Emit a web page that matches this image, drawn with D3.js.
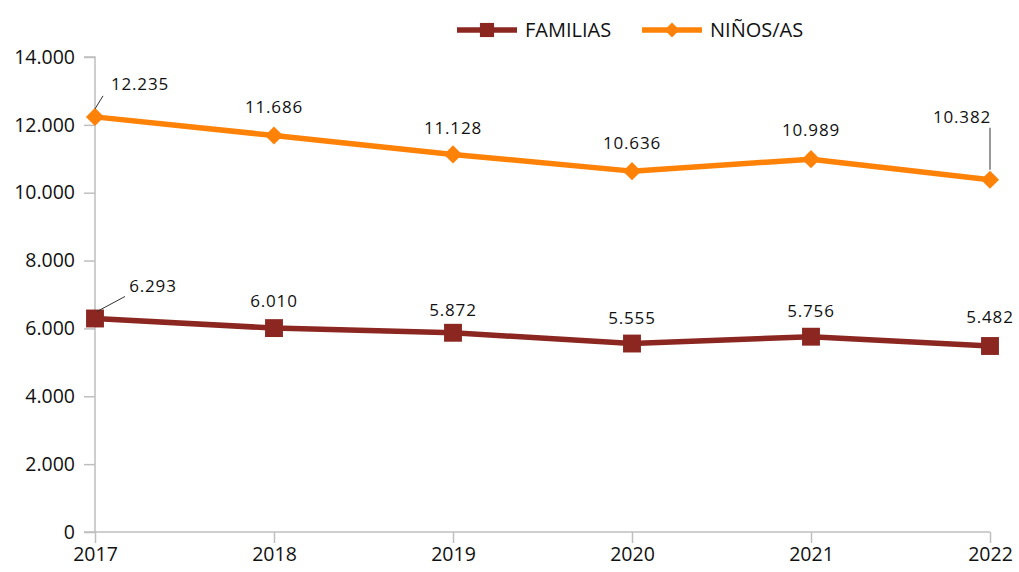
<!DOCTYPE html>
<html>
<head>
<meta charset="utf-8">
<script src="https://cdn.jsdelivr.net/npm/d3@7"></script>
<style>
  body { margin: 0; background: #fff; }
  text { font-family: "Open Sans", "Liberation Sans", sans-serif; fill: #111; }
</style>
</head>
<body>
<svg id="chart" width="1019" height="572"></svg>
<script>
// data
var years = ["2017", "2018", "2019", "2020", "2021", "2022"];
var familias = [6293, 6010, 5872, 5555, 5756, 5482];
var ninos = [12235, 11686, 11128, 10636, 10989, 10382];
var yTicks = [0, 2000, 4000, 6000, 8000, 10000, 12000, 14000];

var esLocale = d3.formatLocale({decimal: ",", thousands: ".", grouping: [3], currency: ["", " €"]});
var fmt = esLocale.format(",.0f");

var svg = d3.select("#chart"),
	margin = {top: 57, right: 29, bottom: 40, left: 95},
	width = +svg.attr("width") - margin.left - margin.right,
	height = +svg.attr("height") - margin.top - margin.bottom;

var g = svg.append("g").attr("transform", "translate(" + margin.left + "," + margin.top + ")");

var x = d3.scalePoint().domain(years).range([0, width]);
var y = d3.scaleLinear().domain([0, 14000]).range([height, 0]);

var axisColor = "#bfbfbf";

// y axis
var yAxis = g.append("g")
	.call(d3.axisLeft(y).tickValues(yTicks).tickFormat(function(d) { return d === 0 ? "0" : fmt(d); }).tickSize(11).tickPadding(9));
yAxis.select(".domain").attr("stroke", axisColor).attr("stroke-width", 1.5).attr("d", "M0," + height + "V0H-11");
yAxis.selectAll(".tick line").attr("stroke", axisColor).attr("stroke-width", 1.5);
yAxis.selectAll(".tick text").style("font-size", "19.5px").style("font-family", "'Open Sans', sans-serif").attr("fill", "#111");

// x axis
var xAxis = g.append("g")
	.attr("transform", "translate(0," + height + ")")
	.call(d3.axisBottom(x).tickSize(11).tickPadding(4));
xAxis.select(".domain").attr("stroke", axisColor).attr("stroke-width", 1.5).attr("d", "M-11,0H" + width);
xAxis.selectAll(".tick line").attr("stroke", axisColor).attr("stroke-width", 1.5);
xAxis.selectAll(".tick text").style("font-size", "19.5px").style("font-family", "'Open Sans', sans-serif").attr("fill", "#111");

var series = [
	{name: "FAMILIAS", values: familias, color: "#8b2720", marker: "square"},
	{name: "NIÑOS/AS", values: ninos, color: "#ff8208", marker: "diamond"}
];

var line = d3.line()
	.x(function(d, i) { return x(years[i]); })
	.y(function(d) { return y(d); });

// markers: square, and a square turned 45deg for the diamond
function markerPath(type, big) {
	if (type === "square") return d3.symbol().type(d3.symbolSquare).size(big ? 320 : 200)();
	return d3.symbol().type(d3.symbolSquare).size(big ? 165 : 110)();
}

series.forEach(function(s) {
	g.append("path")
		.attr("d", line(s.values))
		.attr("fill", "none")
		.attr("stroke", s.color)
		.attr("stroke-width", 5.5)
		.attr("stroke-linejoin", "round");

	g.selectAll(null)
		.data(s.values)
		.enter().append("path")
		.attr("d", markerPath(s.marker, true))
		.attr("transform", function(d, i) {
			return "translate(" + x(years[i]) + "," + y(d) + ")" + (s.marker === "diamond" ? " rotate(45)" : "");
		})
		.attr("fill", s.color);
});

// data labels (offsets from the point, tweaked by eye)
var ninosOff = [[45, -27], [0, -23], [0, -20], [0, -22], [0, -23], [-28, -57]];
var famOff = [[58, -26], [0, -21], [0, -17], [0, -20], [0, -20], [0, -23]];

function addLabels(vals, offs) {
	vals.forEach(function(v, i) {
		var px = x(years[i]), py = y(v);
		g.append("text")
			.attr("x", px + offs[i][0])
			.attr("y", py + offs[i][1])
			.attr("text-anchor", "middle")
			.style("font-size", "17px")
			.style("letter-spacing", "0.8px")
			.text(fmt(v));
	});
}
addLabels(ninos, ninosOff);
addLabels(familias, famOff);

// leader lines
var leaders = [
	[x("2017"), y(12235) - 8, x("2017") + 8, y(12235) - 21],
	[x("2022"), y(10382) - 10, x("2022"), y(10382) - 52],
	[x("2017") + 2, y(6293) - 7, x("2017") + 30, y(6293) - 22]
];
leaders.forEach(function(l) {
	g.append("line")
		.attr("x1", l[0]).attr("y1", l[1]).attr("x2", l[2]).attr("y2", l[3])
		.attr("stroke", "#333").attr("stroke-width", 1);
});

// legend
var legend = svg.append("g").attr("transform", "translate(457,30)");
var leg = legend.selectAll("g").data(series).enter().append("g")
	.attr("transform", function(d, i) { return "translate(" + (i * 185) + ",0)"; });
leg.append("line").attr("x1", 0).attr("x2", 60).attr("y1", 0).attr("y2", 0)
	.attr("stroke", function(d) { return d.color; }).attr("stroke-width", 5.5);
leg.append("path")
	.attr("d", function(d) { return markerPath(d.marker, false); })
	.attr("transform", function(d) { return "translate(30,0)" + (d.marker === "diamond" ? " rotate(45)" : ""); })
	.attr("fill", function(d) { return d.color; });
leg.append("text").attr("x", 68).attr("y", 7).style("font-size", "20px").text(function(d) { return d.name; });
</script>
</body>
</html>
